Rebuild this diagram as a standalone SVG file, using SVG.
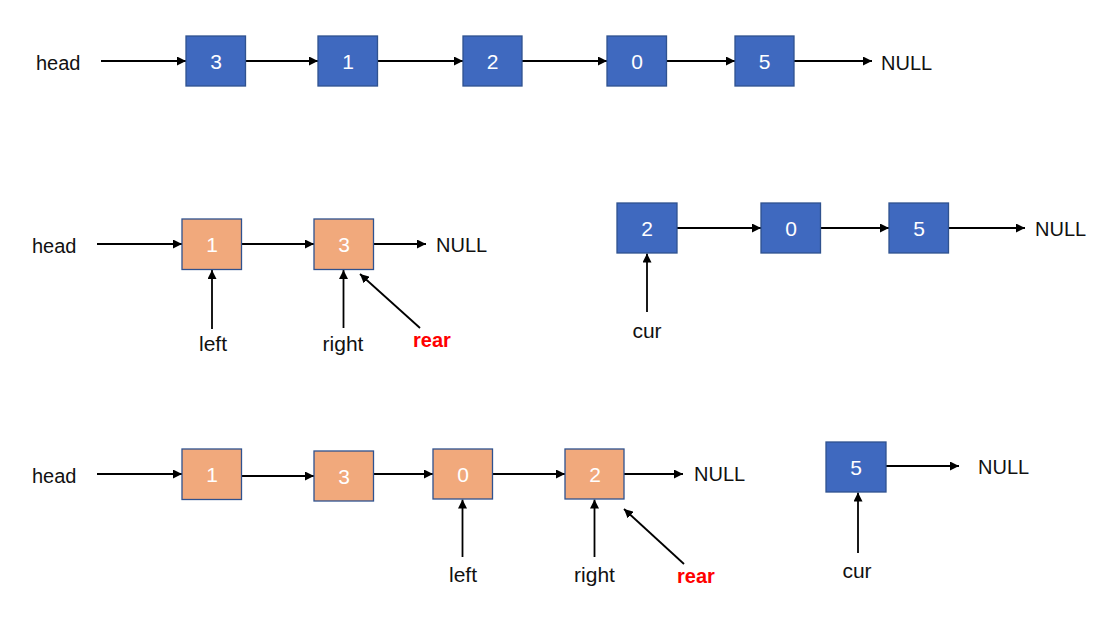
<svg xmlns="http://www.w3.org/2000/svg" width="1100" height="624" viewBox="0 0 1100 624">
<defs>
<marker id="ah" viewBox="0 0 10 10" refX="10" refY="5" markerWidth="5" markerHeight="5" markerUnits="strokeWidth" orient="auto">
<path d="M0,0 L10,5 L0,10 z" fill="#000"/>
</marker>
<style>
.b{fill:#3F69BF;stroke:#2F528F;stroke-width:1.3}
.o{fill:#F1A97C;stroke:#2F528F;stroke-width:1.3}
.n{font-family:"Liberation Sans",Arial,sans-serif;font-size:21px;fill:#fff;text-anchor:middle}
.t{font-family:"Liberation Sans",Arial,sans-serif;font-size:20px;fill:#111}
.c{text-anchor:middle;font-size:21px}
.r{font-family:"Liberation Sans",Arial,sans-serif;font-size:20px;font-weight:bold;fill:#FF0000}
.e{stroke:#000;stroke-width:1.8;fill:none;marker-end:url(#ah)}
</style>
</defs>
<rect width="1100" height="624" fill="#fff"/>

<g id="connectors">
<line class="e" x1="101" y1="61" x2="186" y2="61"/>
<line class="e" x1="246" y1="61" x2="318" y2="61"/>
<line class="e" x1="378" y1="61" x2="463" y2="61"/>
<line class="e" x1="522" y1="61" x2="607" y2="61"/>
<line class="e" x1="667" y1="61" x2="735" y2="61"/>
<line class="e" x1="794" y1="61" x2="872" y2="61"/>
<line class="e" x1="97" y1="244" x2="182" y2="244"/>
<line class="e" x1="242" y1="244" x2="314" y2="244"/>
<line class="e" x1="373" y1="244" x2="426" y2="244"/>
<line class="e" x1="212" y1="329" x2="212" y2="270"/>
<line class="e" x1="343.5" y1="328" x2="343.5" y2="270"/>
<line class="e" x1="420" y1="328" x2="360" y2="274"/>
<line class="e" x1="677" y1="228" x2="761" y2="228"/>
<line class="e" x1="821" y1="228" x2="889" y2="228"/>
<line class="e" x1="949" y1="228" x2="1025" y2="228"/>
<line class="e" x1="647" y1="312" x2="647" y2="253.5"/>
<line class="e" x1="97" y1="474" x2="182" y2="474"/>
<line class="e" x1="242" y1="476" x2="314" y2="476"/>
<line class="e" x1="373" y1="474" x2="433" y2="474"/>
<line class="e" x1="492" y1="474" x2="565" y2="474"/>
<line class="e" x1="624" y1="474" x2="683" y2="474"/>
<line class="e" x1="462.5" y1="557" x2="462.5" y2="499.5"/>
<line class="e" x1="594.5" y1="557" x2="594.5" y2="499.5"/>
<line class="e" x1="684" y1="564" x2="624" y2="509"/>
<line class="e" x1="886" y1="466" x2="959" y2="466"/>
<line class="e" x1="858" y1="553" x2="858" y2="492.5"/>
</g>

<g id="row1">
<g id="r1-head"><text class="t" x="36" y="70">head</text></g>
<g id="r1-n3"><rect class="b" x="186" y="36" width="59.5" height="50"/><text class="n" x="216" y="68.5">3</text></g>
<g id="r1-n1"><rect class="b" x="318" y="36" width="59.5" height="50"/><text class="n" x="348" y="68.5">1</text></g>
<g id="r1-n2"><rect class="b" x="463" y="36" width="59" height="50"/><text class="n" x="492.5" y="68.5">2</text></g>
<g id="r1-n0"><rect class="b" x="607" y="36" width="59.5" height="50"/><text class="n" x="637" y="68.5">0</text></g>
<g id="r1-n5"><rect class="b" x="735" y="36" width="59" height="50"/><text class="n" x="764.5" y="68.5">5</text></g>
<g id="r1-null"><text class="t" x="881" y="70">NULL</text></g>
</g>

<g id="row2">
<g id="r2-head"><text class="t" x="32" y="253">head</text></g>
<g id="r2-n1"><rect class="o" x="182" y="219" width="59.5" height="50.5"/><text class="n" x="212" y="251.5">1</text></g>
<g id="r2-n3"><rect class="o" x="314" y="219" width="59.5" height="50.5"/><text class="n" x="344" y="251.5">3</text></g>
<g id="r2-null"><text class="t" x="436" y="252">NULL</text></g>
<g id="r2-left"><text class="t c" x="213" y="351">left</text></g>
<g id="r2-right"><text class="t c" x="343" y="351">right</text></g>
<g id="r2-rear"><text class="r" x="413" y="347">rear</text></g>
<g id="r2-n2"><rect class="b" x="617" y="203" width="60" height="50"/><text class="n" x="647" y="235.5">2</text></g>
<g id="r2-n0"><rect class="b" x="761" y="203" width="59.5" height="50"/><text class="n" x="791" y="235.5">0</text></g>
<g id="r2-n5"><rect class="b" x="889" y="203" width="59.5" height="50"/><text class="n" x="919" y="235.5">5</text></g>
<g id="r2-null2"><text class="t" x="1035" y="236">NULL</text></g>
<g id="r2-cur"><text class="t c" x="647" y="338">cur</text></g>
</g>

<g id="row3">
<g id="r3-head"><text class="t" x="32" y="483">head</text></g>
<g id="r3-n1"><rect class="o" x="182" y="449" width="59.5" height="50.5"/><text class="n" x="212" y="481.5">1</text></g>
<g id="r3-n3"><rect class="o" x="314" y="451" width="59.5" height="50"/><text class="n" x="344" y="483.5">3</text></g>
<g id="r3-n0"><rect class="o" x="433" y="449" width="59.5" height="50"/><text class="n" x="463" y="481.5">0</text></g>
<g id="r3-n2"><rect class="o" x="565" y="449" width="59" height="50"/><text class="n" x="595" y="481.5">2</text></g>
<g id="r3-null"><text class="t" x="694" y="481">NULL</text></g>
<g id="r3-left"><text class="t c" x="463" y="582">left</text></g>
<g id="r3-right"><text class="t c" x="594.5" y="582">right</text></g>
<g id="r3-rear"><text class="r" x="677" y="583">rear</text></g>
<g id="r3-n5"><rect class="b" x="826" y="442" width="60" height="50"/><text class="n" x="856" y="474.5">5</text></g>
<g id="r3-null2"><text class="t" x="978" y="474">NULL</text></g>
<g id="r3-cur"><text class="t c" x="857" y="578">cur</text></g>
</g>
</svg>
